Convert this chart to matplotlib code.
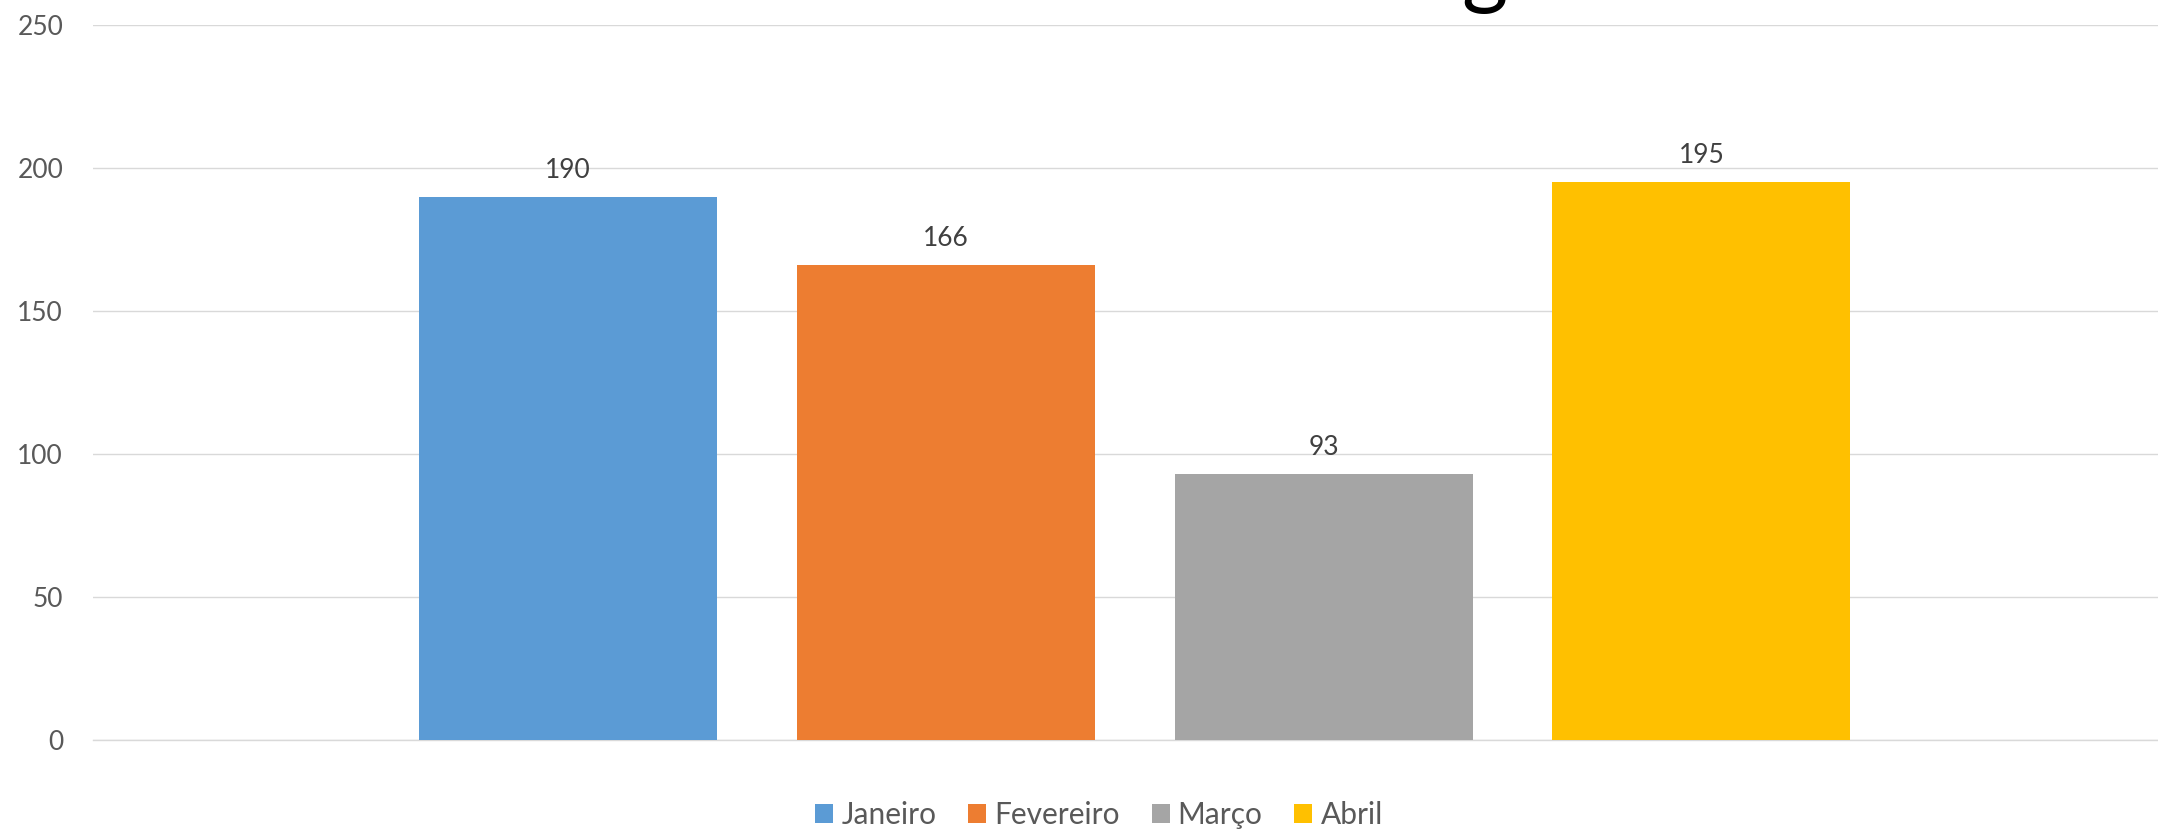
import matplotlib
matplotlib.use("Agg")
import matplotlib.pyplot as plt

# Data
series = ["Janeiro", "Fevereiro", "Março", "Abril"]
values = [190, 166, 93, 195]
colors = ["#5B9BD5", "#ED7D31", "#A5A5A5", "#FFC000"]
yticks = [0, 50, 100, 150, 200, 250]

plt.rcParams['font.family'] = ['Lato', 'DejaVu Sans']

W, H = 2158, 832
fig = plt.figure(figsize=(W / 100, H / 100), dpi=100)
fig.patch.set_facecolor("white")

left_px, right_px = 93, 2158
bottom_px, top_px = 740, 25
ax = fig.add_axes([left_px / W, 1 - bottom_px / H,
                   (right_px - left_px) / W, (bottom_px - top_px) / H])

x0_px, step_px = 568, 377.8
xs = list(range(len(series)))
bars = []
for i, (name, v, c) in enumerate(zip(series, values, colors)):
    b = ax.bar(xs[i], v, width=0.789, color=c, label=name, zorder=3)
    bars.append(b)
    ax.annotate(f"{v}", xy=(xs[i], v), xytext=(0, 13.7), textcoords="offset points",
                ha="center", va="baseline", fontsize=19, color="#404040", zorder=4)

ax.set_xlim((left_px - x0_px) / step_px, (right_px - x0_px) / step_px)
ax.set_ylim(0, 250)
ax.set_yticks(yticks)
ax.set_yticklabels([str(t) for t in yticks])
ax.set_xticks([])
ax.tick_params(axis="y", length=0, pad=21.5, labelsize=19, labelcolor="#595959")
ax.grid(axis="y", color="#D9D9D9", linewidth=1.0, zorder=0)
for s in ["top", "right", "left"]:
    ax.spines[s].set_visible(False)
ax.spines["bottom"].set_color("#D9D9D9")
ax.spines["bottom"].set_linewidth(1.0)
ax.set_facecolor("white")

# Title (only its lowest part falls inside the picture)
fig.text(1484 / W, 1 - 14 / H, "g", ha="center", va="bottom",
         fontsize=64, color="black")

fig.legend(handles=[b[0] for b in bars], labels=series, loc="center",
           bbox_to_anchor=(1099 / W, 1 - 815 / H), ncol=4, frameon=False,
           fontsize=21.5, labelcolor="#595959", handlelength=0.6, handleheight=0.6,
           handletextpad=0.27, columnspacing=1.07, borderaxespad=0, borderpad=0)

fig.savefig("out.png", dpi=100, facecolor="white")
